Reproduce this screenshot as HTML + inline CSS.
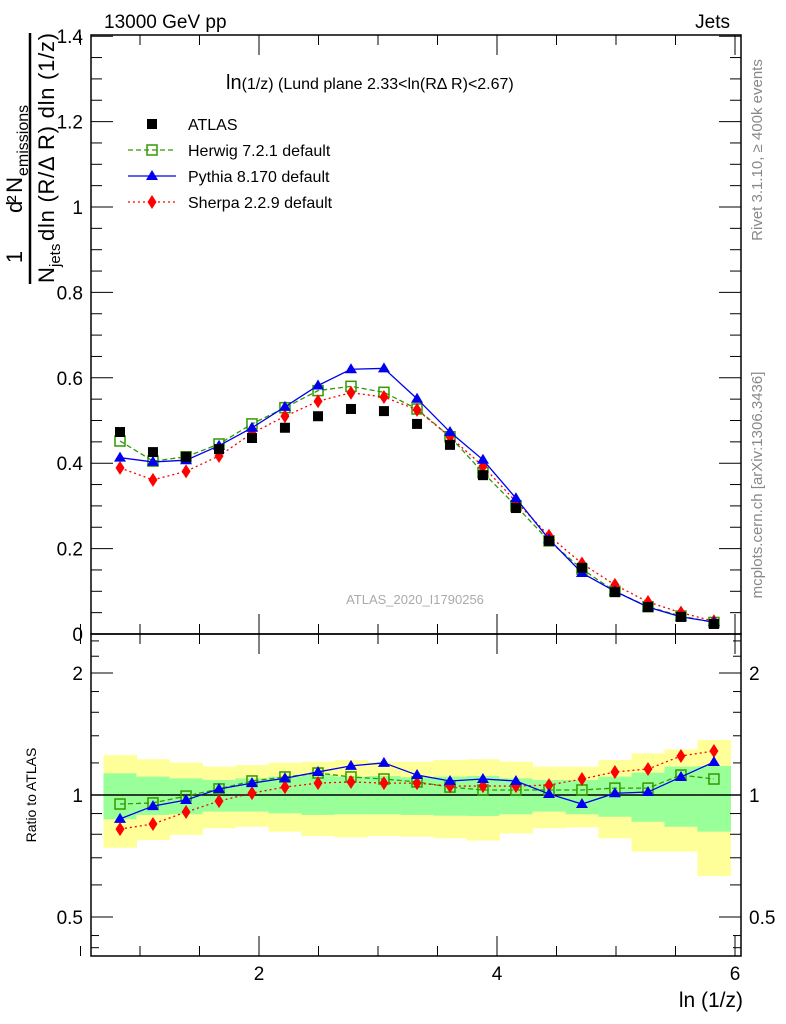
<!DOCTYPE html>
<html><head><meta charset="utf-8"><style>
body{margin:0;background:#fff;}
svg{display:block;font-family:"Liberation Sans",sans-serif;}
</style></head><body>
<svg id="chart" width="786" height="1024" viewBox="0 0 786 1024"></svg>
<script>
const xs=[0.832,1.109,1.387,1.664,1.941,2.218,2.496,2.773,3.050,3.328,3.605,3.882,4.159,4.437,4.714,4.991,5.269,5.546,5.823];
const atlas=[0.473,0.426,0.415,0.433,0.459,0.483,0.51,0.527,0.522,0.492,0.443,0.372,0.295,0.218,0.155,0.098,0.063,0.040,0.0235];
const herwig=[0.452,0.405,0.415,0.445,0.492,0.53,0.57,0.58,0.566,0.527,0.462,0.378,0.300,0.218,0.152,0.100,0.064,0.042,0.027];
const pythia=[0.413,0.403,0.407,0.441,0.483,0.532,0.582,0.62,0.622,0.551,0.473,0.408,0.318,0.222,0.143,0.100,0.063,0.040,0.028];
const sherpa=[0.389,0.361,0.381,0.417,0.47,0.51,0.545,0.565,0.555,0.525,0.462,0.393,0.31,0.23,0.165,0.115,0.075,0.050,0.030];
const rHerwig=[0.95,0.956,0.994,1.035,1.083,1.108,1.133,1.108,1.095,1.077,1.046,1.029,1.029,1.029,1.029,1.04,1.04,1.12,1.095];
const rPythia=[0.873,0.939,0.972,1.035,1.07,1.1,1.14,1.18,1.2,1.12,1.083,1.095,1.083,1.006,0.95,1.01,1.017,1.108,1.206];
const rSherpa=[0.824,0.848,0.908,0.966,1.011,1.046,1.07,1.077,1.07,1.07,1.052,1.052,1.052,1.058,1.095,1.14,1.159,1.248,1.284];
const gTop=[1.131,1.110,1.099,1.089,1.099,1.110,1.120,1.110,1.114,1.106,1.110,1.114,1.099,1.089,1.089,1.110,1.135,1.175,1.179];
const gBot=[0.871,0.893,0.896,0.910,0.910,0.901,0.893,0.896,0.896,0.893,0.889,0.888,0.896,0.910,0.896,0.884,0.859,0.835,0.812];
const yTop=[1.255,1.225,1.202,1.175,1.186,1.202,1.208,1.22,1.208,1.208,1.22,1.225,1.208,1.175,1.175,1.22,1.267,1.296,1.367];
const yBot=[0.741,0.774,0.797,0.828,0.835,0.812,0.792,0.786,0.792,0.789,0.782,0.772,0.804,0.828,0.832,0.782,0.725,0.725,0.631];
const binW=0.2773;
const xTicks=[2,4,6];
const yTicks=[0,0.2,0.4,0.6,0.8,1,1.2,1.4];
const rTicks=[0.5,1,2];

const NS="http://www.w3.org/2000/svg";
const svg=document.getElementById('chart');
const L=91,R=741,T=35,MB=634,RB=956;
const X=v=>21+119*v;
const Y=v=>634-427*v;
const RY=r=>795-122*Math.log2(r);
function el(tag,attrs,parent,text){const e=document.createElementNS(NS,tag);for(const k in attrs)e.setAttribute(k,attrs[k]);if(text!==undefined)e.textContent=text;(parent||svg).appendChild(e);return e;}

const bands=el('g',{});


xs.forEach((x,i)=>{
  const x0=X(x-binW/2),x1=X(x+binW/2);
  const ry=el('rect',{x:x0,y:RY(yTop[i]),width:x1-x0+0.5,height:RY(yBot[i])-RY(yTop[i]),fill:'#ffff99'},bands);
  
  
  const rg=el('rect',{x:x0,y:RY(gTop[i]),width:x1-x0+0.5,height:RY(gBot[i])-RY(gTop[i]),fill:'#99ff99'},bands);
  
  
});
const one=el('line',{x1:L,x2:R,y1:RY(1),y2:RY(1),stroke:'#000','stroke-width':1.5});



function marker(g,type,cx,cy,color){
  let m;
  if(type==='sq') m=el('rect',{x:cx-5,y:cy-5,width:10,height:10,fill:'#000'},g);
  else if(type==='osq') m=el('rect',{x:cx-5,y:cy-5,width:10,height:10,fill:'none',stroke:color,'stroke-width':1.5},g);
  else if(type==='tri') m=el('polygon',{points:`${cx},${cy-6} ${cx-6},${cy+4} ${cx+6},${cy+4}`,fill:color},g);
  else m=el('polygon',{points:`${cx},${cy-7} ${cx-4.5},${cy} ${cx},${cy+7} ${cx+4.5},${cy}`,fill:color},g);
  
  
}
function series(name,vals,yf,color,dash,type){
  const g=el('g',{});
  
  
  if(color){
    const p=el('polyline',{points:xs.map((x,i)=>X(x)+','+yf(vals[i])).join(' '),fill:'none',stroke:color,'stroke-width':1.3,'stroke-dasharray':dash},g);
    
    
  }
  xs.forEach((x,i)=>marker(g,type,X(x),yf(vals[i]),color));
}
series('herwig-series',herwig,Y,'#339900','5,3','osq');
series('sherpa-series',sherpa,Y,'#ff0000','2,3','dia');
series('pythia-series',pythia,Y,'#0000ee','','tri');
series('atlas-series',atlas,Y,null,'','sq');
series('herwig-ratio',rHerwig,RY,'#339900','5,3','osq');
series('sherpa-ratio',rSherpa,RY,'#ff0000','2,3','dia');
series('pythia-ratio',rPythia,RY,'#0000ee','','tri');

const f1=el('rect',{x:L,y:T,width:R-L,height:MB-T,fill:'none',stroke:'#000','stroke-width':1.5});


const f2=el('rect',{x:L,y:MB,width:R-L,height:RB-MB,fill:'none',stroke:'#000','stroke-width':1.5});



const tk=el('g',{stroke:'#000','stroke-width':1});


for(let v=0.5;v<=6;v+=0.5){
  const maj=Math.abs(v-Math.round(v/2)*2)<1e-6, len=maj?20:10;
  el('line',{x1:X(v),x2:X(v),y1:RB,y2:RB-len},tk);
  el('line',{x1:X(v),x2:X(v),y1:MB,y2:MB-len},tk);
  el('line',{x1:X(v),x2:X(v),y1:T,y2:T+len},tk);
  el('line',{x1:X(v),x2:X(v),y1:MB,y2:MB+len},tk);
}
for(let v=0;v<=1.4001;v+=0.05){
  const maj=Math.abs(v*5-Math.round(v*5))<1e-6, len=maj?22:11;
  el('line',{x1:L,x2:L+len,y1:Y(v),y2:Y(v)},tk);
  el('line',{x1:R,x2:R-len,y1:Y(v),y2:Y(v)},tk);
}
[0.5,0.6,0.7,0.8,0.9,1,2].forEach(r=>{const len=rTicks.includes(r)?22:11;
  el('line',{x1:L,x2:L+len,y1:RY(r),y2:RY(r)},tk);el('line',{x1:R,x2:R-len,y1:RY(r),y2:RY(r)},tk);});
[0.42,0.45,1.2,1.4,1.6,1.8,2.2,2.4].forEach(r=>{
  el('line',{x1:L,x2:L+8,y1:RY(r),y2:RY(r)},tk);el('line',{x1:R,x2:R-8,y1:RY(r),y2:RY(r)},tk);});

function txt(name,s,attrs,parent){const t=el('text',attrs,parent||svg,s);return t;}
yTicks.forEach(v=>txt('y-tick-label',v===0?'0':String(v),{x:83,y:Y(v)+7,'text-anchor':'end','font-size':19}));
xTicks.forEach(v=>txt('x-tick-label',String(v),{x:X(v),y:980,'text-anchor':'middle','font-size':19}));
rTicks.forEach(r=>{txt('ratio-tick-label',String(r),{x:83,y:RY(r)+7,'text-anchor':'end','font-size':19});
  txt('ratio-tick-label-right',String(r),{x:749,y:RY(r)+7,'font-size':19});});

txt('energy-label','13000 GeV pp',{x:104,y:28,'font-size':19});
txt('process-label','Jets',{x:730,y:28,'text-anchor':'end','font-size':19});
txt('x-axis-title','ln (1/z)',{x:743,y:1007,'text-anchor':'end','font-size':21});
const pt=txt('plot-title','',{x:226,y:89,'font-size':16});
el('tspan',{'font-size':20},pt,'ln');
el('tspan',{},pt,'(1/z) (Lund plane 2.33<ln(RΔ R)<2.67)');
txt('analysis-label','ATLAS_2020_I1790256',{x:415,y:604,'text-anchor':'middle','font-size':13,fill:'#aaa'});
txt('ratio-axis-title','Ratio to ATLAS',{x:36,y:795,'text-anchor':'middle','font-size':14,transform:'rotate(-90 36 795)'});
txt('rivet-label','Rivet 3.1.10, ≥ 400k events',{x:762,y:150,'text-anchor':'middle','font-size':15,fill:'#888',transform:'rotate(-90 762 150)'});
txt('mcplots-label','mcplots.cern.ch [arXiv:1306.3436]',{x:762,y:485,'text-anchor':'middle','font-size':15,fill:'#888',transform:'rotate(-90 762 485)'});

const yt=el('g',{transform:'rotate(-90)'});


txt('y-title-one','1',{x:-257,y:22,'text-anchor':'middle','font-size':22},yt);
txt('y-title-numerator','d² N',{x:-213,y:22,'font-size':22,textLength:36},yt);
txt('y-title-numerator-sub','emissions',{x:-176,y:28,'font-size':16},yt);
const bar=el('line',{x1:-284,x2:-33,y1:30,y2:30,stroke:'#000','stroke-width':2.5},yt);


txt('y-title-denominator-n','N',{x:-283,y:54,'font-size':22},yt);
txt('y-title-denominator-sub','jets',{x:-267,y:60,'font-size':15},yt);
txt('y-title-denominator','dln (R/Δ R) dln (1/z)',{x:-241,y:54,'font-size':22,textLength:208},yt);

const lg=el('g',{});


const ent=[['ATLAS',null,'','sq'],['Herwig 7.2.1 default','#339900','5,3','osq'],['Pythia 8.170 default','#0000ee','','tri'],['Sherpa 2.2.9 default','#ff0000','2,3','dia']];
ent.forEach((e,i)=>{const y=124+i*26;
  const g=el('g',{},lg);
  
  
  if(e[1]) el('line',{x1:128,x2:176,y1:y,y2:y,stroke:e[1],'stroke-width':1.3,'stroke-dasharray':e[2]},g);
  marker(g,e[3],152,y,e[1]);
  el('text',{x:188,y:y+6,'font-size':16},g,e[0]);
});
</script>
</body></html>
